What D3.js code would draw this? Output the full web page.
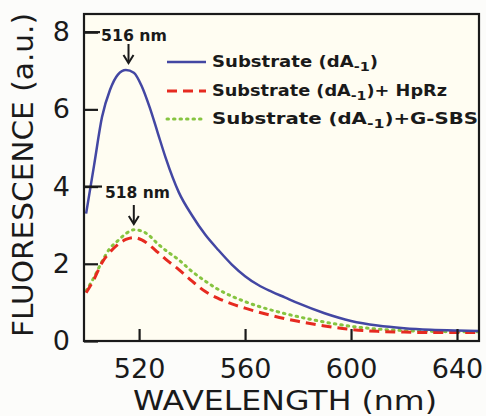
<!DOCTYPE html>
<html><head><meta charset="utf-8">
<script src="https://cdn.jsdelivr.net/npm/d3@7/dist/d3.min.js"></script>
<style>
html,body{margin:0;padding:0;background:#fcfcfa;}
svg{display:block;}
text{font-family:"DejaVu Sans",sans-serif;fill:#1a1a1a;}
</style></head>
<body><svg id="c" width="486" height="416"></svg>
<script>
const wavelengths = [500,503,506,509,512,515,518,521,524,527,530,535,540,545,550,555,560,565,570,575,580,590,600,610,620,630,640,648];
const substrate =   [3.3,4.55,5.8,6.5,6.9,7.02,6.95,6.6,6.05,5.4,4.75,3.85,3.25,2.75,2.35,1.98,1.68,1.45,1.28,1.13,0.98,0.72,0.52,0.4,0.33,0.29,0.27,0.26];
const withHpRz =    [1.25,1.6,2.03,2.3,2.5,2.63,2.68,2.62,2.48,2.3,2.12,1.85,1.55,1.28,1.1,0.96,0.85,0.75,0.66,0.58,0.51,0.39,0.3,0.25,0.23,0.22,0.22,0.22];
const withGSBS =    [1.3,1.65,2.06,2.4,2.6,2.78,2.88,2.85,2.72,2.52,2.35,2.1,1.8,1.55,1.33,1.16,1.02,0.9,0.8,0.71,0.63,0.49,0.38,0.31,0.27,0.25,0.24,0.24];
const xTicks = [520,560,600,640];
const yTicks = [0,2,4,6,8];

const svg = d3.select("#c");
const L=84, R=479, T=14, B=341;
const x = d3.scaleLinear().domain([499.2,648.3]).range([L,R]);
const y = d3.scaleLinear().domain([0,8.47]).range([B,T]);

svg.append("rect").attr("x",L).attr("y",T).attr("width",R-L).attr("height",B-T).attr("fill","#fffdf2");

svg.append("defs").append("clipPath").attr("id","clip").append("rect")
  .attr("x",L).attr("y",T).attr("width",R-L).attr("height",B-T);

const line = (vals)=> d3.line().x((d,i)=>x(wavelengths[i])).y(d=>y(d)).curve(d3.curveMonotoneX)(vals);
const g = svg.append("g").attr("clip-path","url(#clip)");
g.append("path").attr("d",line(withGSBS)).attr("fill","none").attr("stroke","#86c440").attr("stroke-width",3).attr("stroke-dasharray","1.5,5").attr("stroke-linecap","round");
g.append("path").attr("d",line(withHpRz)).attr("fill","none").attr("stroke","#e62a20").attr("stroke-width",3).attr("stroke-dasharray","10,6");
g.append("path").attr("d",line(substrate)).attr("fill","none").attr("stroke","#4347a3").attr("stroke-width",2.5);

// axes
const xAxis = d3.axisBottom(x).tickValues(xTicks).tickSizeInner(-12).tickSizeOuter(0).tickPadding(18);
const yAxis = d3.axisLeft(y).tickValues(yTicks).tickSizeInner(-14).tickSizeOuter(0).tickPadding(14);
const gx = svg.append("g").attr("transform",`translate(0,${B})`).call(xAxis);
const gy = svg.append("g").attr("transform",`translate(${L},0)`).call(yAxis);
[gx,gy].forEach(a=>{
  a.select(".domain").remove();
  a.selectAll(".tick line").attr("stroke","#1a1a1a").attr("stroke-width",2.2);
  a.selectAll(".tick text").attr("font-size",27).attr("fill","#1a1a1a").attr("font-family","DejaVu Sans");
});
gx.selectAll(".tick text").attr("dy","0.71em");
// frame
svg.append("rect").attr("x",L).attr("y",T).attr("width",R-L).attr("height",B-T).attr("fill","none").attr("stroke","#1a1a1a").attr("stroke-width",2.2);

// titles
svg.append("text").attr("x",285).attr("y",410).attr("text-anchor","middle").attr("font-size",26)
  .attr("textLength",304).attr("lengthAdjust","spacingAndGlyphs").text("WAVELENGTH (nm)");
svg.append("text").attr("transform","translate(33,175) rotate(-90)").attr("text-anchor","middle").attr("font-size",28)
  .attr("textLength",324).attr("lengthAdjust","spacingAndGlyphs").text("FLUORESCENCE (a.u.)");

// peak annotations
function arrow(xv, y1, y2){
  svg.append("line").attr("x1",x(xv)).attr("x2",x(xv)).attr("y1",y1).attr("y2",y2-2).attr("stroke","#1a1a1a").attr("stroke-width",2);
  svg.append("path").attr("d",`M${x(xv)-5},${y2-8} L${x(xv)},${y2} L${x(xv)+5},${y2-8}`).attr("fill","none").attr("stroke","#1a1a1a").attr("stroke-width",2);
}
svg.append("line").attr("x1",L).attr("x2",L+16).attr("y1",y(8)).attr("y2",y(8)).attr("stroke","#1a1a1a").attr("stroke-width",2.2);
svg.append("text").attr("x",101).attr("y",41).attr("font-size",16).attr("font-weight","bold").attr("textLength",66).attr("lengthAdjust","spacingAndGlyphs").text("516 nm");
arrow(516, 44, 63);
svg.append("line").attr("x1",L).attr("x2",L+18).attr("y1",y(4)).attr("y2",y(4)).attr("stroke","#1a1a1a").attr("stroke-width",2.2);
svg.append("text").attr("x",105).attr("y",198).attr("font-size",16).attr("font-weight","bold").attr("textLength",65).attr("lengthAdjust","spacingAndGlyphs").text("518 nm");
arrow(518, 205, 224);

// legend
const legend = [
  {c:"#4347a3", dash:null, w:2.5, y:62, pre:"Substrate (dA", post:")", len:166},
  {c:"#e62a20", dash:"10,6", w:3, y:91, pre:"Substrate (dA", post:")+ HpRz", len:235},
  {c:"#86c440", dash:"1.5,5", w:3, y:119, pre:"Substrate (dA", post:")+G-SBS", len:266}
];
legend.forEach(l=>{
  svg.append("line").attr("x1",167).attr("x2",206).attr("y1",l.y).attr("y2",l.y).attr("stroke",l.c)
    .attr("stroke-width",l.w).attr("stroke-dasharray",l.dash).attr("stroke-linecap",l.dash&&l.dash.startsWith("1.5")?"round":"butt");
  const t = svg.append("text").attr("x",212).attr("y",l.y+5).attr("font-size",15).attr("font-weight","bold")
    .attr("textLength",l.len).attr("lengthAdjust","spacingAndGlyphs");
  t.append("tspan").text(l.pre);
  t.append("tspan").attr("font-size",12).attr("dy",4).text("-1");
  t.append("tspan").attr("dy",-4).text(l.post);
});
</script></body></html>
